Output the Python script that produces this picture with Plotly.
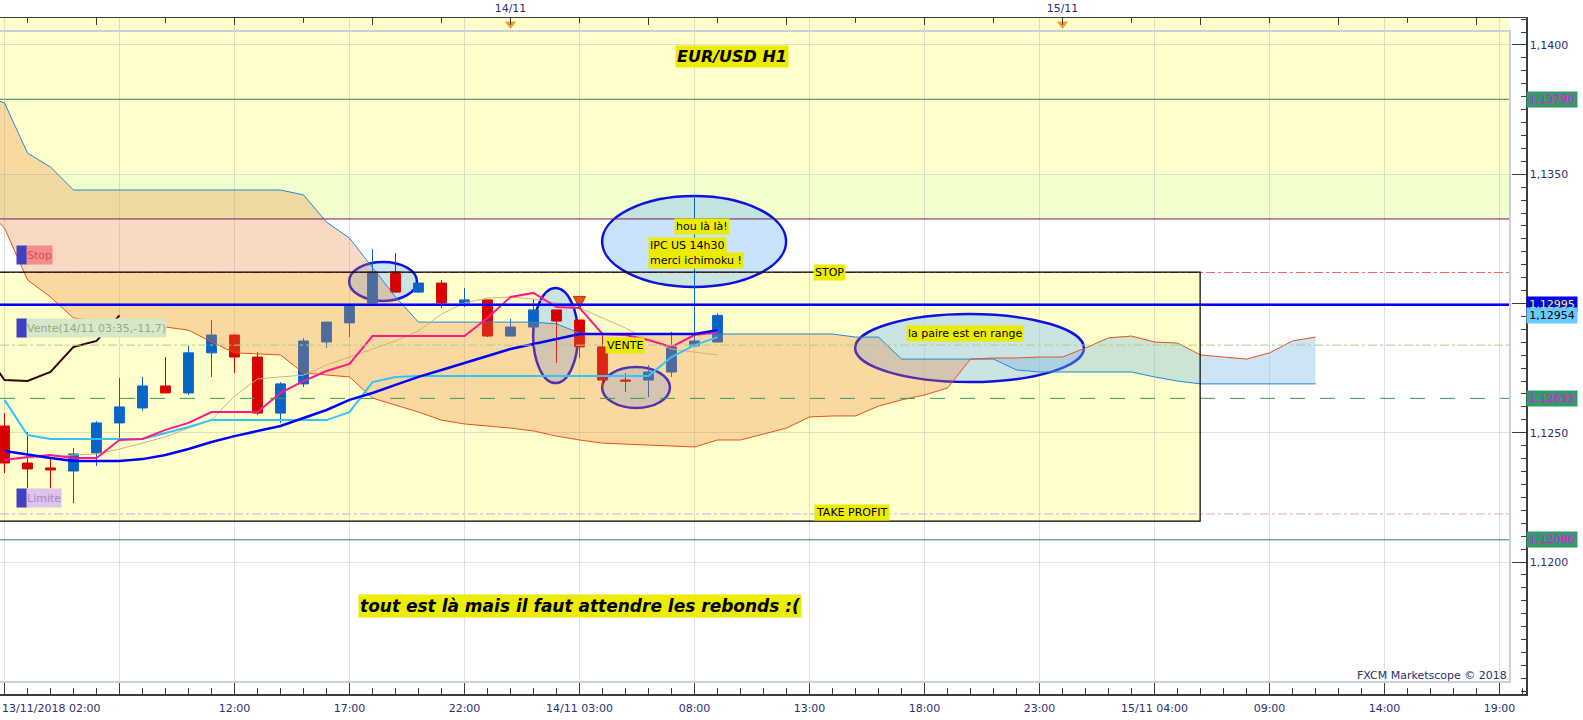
import pandas as pd
import plotly.graph_objects as go

# ---------------- data ----------------
# hourly timeline 13/11/2018 01:00 ... 15/11/2018 11:00 (cloud is shifted 26 h ahead)
hours = pd.date_range("2018-11-13 01:00", periods=59, freq="h")
candle_times = hours[1:33]          # 13/11 02:00 ... 14/11 09:00

opens = [1.12526, 1.12383, 1.12364, 1.12352, 1.12422, 1.12538, 1.12596, 1.12681, 1.12654, 1.12809,
         1.12878, 1.12793, 1.12576, 1.12689, 1.12851, 1.12925, 1.13002, 1.13122, 1.13044, 1.13079,
         1.13002, 1.13014, 1.12874, 1.12909, 1.12975, 1.12936, 1.12832, 1.12704, 1.12704, 1.12735,
         1.12836, 1.12851]
highs = [1.12576, 1.12503, 1.12406, 1.12441, 1.12545, 1.12712, 1.12716, 1.12793, 1.12836, 1.12936,
         1.12881, 1.12812, 1.12696, 1.12866, 1.12928, 1.12994, 1.13211, 1.13195, 1.13079, 1.13091,
         1.13060, 1.13014, 1.12940, 1.13017, 1.12975, 1.12936, 1.12878, 1.12731, 1.12762, 1.12890,
         1.13420, 1.12962]
lows = [1.12344, 1.12286, 1.12286, 1.12228, 1.12371, 1.12472, 1.12584, 1.12654, 1.12646, 1.12716,
        1.12731, 1.12569, 1.12538, 1.12677, 1.12828, 1.12870, 1.12990, 1.13041, 1.13041, 1.12983,
        1.12986, 1.12870, 1.12874, 1.12905, 1.12770, 1.12789, 1.12677, 1.12658, 1.12638, 1.12716,
        1.12832, 1.12851]
closes = [1.12383, 1.12360, 1.12356, 1.12418, 1.12538, 1.12600, 1.12681, 1.12654, 1.12809, 1.12878,
          1.12793, 1.12576, 1.12689, 1.12855, 1.12928, 1.12994, 1.13122, 1.13044, 1.13079, 1.13002,
          1.13014, 1.12874, 1.12909, 1.12975, 1.12932, 1.12832, 1.12704, 1.12700, 1.12735, 1.12832,
          1.12855, 1.12954]

tenkan = [1.12395, 1.12406, 1.12414, 1.12402, 1.12402, 1.12472, 1.12476, 1.12511, 1.12538, 1.12580,
          1.12580, 1.12580, 1.12654, 1.12700, 1.12739, 1.12766, 1.12874, 1.12874, 1.12874, 1.12874,
          1.12874, 1.12944, 1.13025, 1.13041, 1.12986, 1.12983, 1.12882, 1.12878, 1.12859, 1.12832,
          1.12878, 1.12890]
kijun = [1.12627, 1.12491, 1.12476, 1.12476, 1.12476, 1.12476, 1.12476, 1.12499, 1.12522, 1.12549,
         1.12549, 1.12549, 1.12549, 1.12549, 1.12549, 1.12580, 1.12696, 1.12716, 1.12720, 1.12720,
         1.12720, 1.12720, 1.12720, 1.12720, 1.12720, 1.12720, 1.12720, 1.12720, 1.12720, 1.12793,
         1.12839, 1.12870]
ma_blue = [1.12429, 1.12414, 1.12402, 1.12391, 1.12391, 1.12391, 1.12398, 1.12414, 1.12437, 1.12464,
           1.12487, 1.12507, 1.12526, 1.12557, 1.12588, 1.12627, 1.12654, 1.12685, 1.12716, 1.12743,
           1.12770, 1.12797, 1.12824, 1.12843, 1.12863, 1.12882, 1.12882, 1.12882, 1.12882, 1.12882,
           1.12882, 1.12897]
ma_tan = [1.12395, 1.12402, 1.12406, 1.12414, 1.12418, 1.12437, 1.12460, 1.12484, 1.12518, 1.12549,
          1.12642, 1.12708, 1.12716, 1.12723, 1.12762, 1.12793, 1.12824, 1.12855, 1.12894, 1.12959,
          1.13002, 1.13021, 1.13025, 1.13017, 1.13002, 1.12983, 1.12944, 1.12905, 1.12859, 1.12824,
          1.12812, 1.12801]

span_blue = [1.13807, 1.13776, 1.13582, 1.13528, 1.13439, 1.13439, 1.13439, 1.13439, 1.13439, 1.13439,
             1.13439, 1.13439, 1.13439, 1.13439, 1.13420, 1.13315, 1.13253, 1.13137, 1.13025, 1.12928,
             1.12928, 1.12928, 1.12928, 1.12928, 1.12928, 1.12921, 1.12886, 1.12882, 1.12882, 1.12882,
             1.12882, 1.12882, 1.12882, 1.12882, 1.12882, 1.12882, 1.12882, 1.12882, 1.12870, 1.12870,
             1.12785, 1.12785, 1.12785, 1.12785, 1.12785, 1.12743, 1.12735, 1.12735, 1.12735, 1.12735,
             1.12735, 1.12716, 1.12700, 1.12689, 1.12689, 1.12689, 1.12689, 1.12689, 1.12689]
span_orange = [1.13381, 1.13292, 1.13091, 1.13025, 1.12944, 1.12932, 1.12925, 1.12917, 1.12909, 1.12897,
               1.12851, 1.12809, 1.12805, 1.12801, 1.12731, 1.12723, 1.12716, 1.12634, 1.12607, 1.12580,
               1.12549, 1.12534, 1.12526, 1.12518, 1.12507, 1.12487, 1.12472, 1.12460, 1.12456, 1.12453,
               1.12449, 1.12445, 1.12472, 1.12472, 1.12495, 1.12518, 1.12561, 1.12565, 1.12565, 1.12603,
               1.12627, 1.12646, 1.12673, 1.12785, 1.12789, 1.12789, 1.12793, 1.12793, 1.12828, 1.12867,
               1.12874, 1.12851, 1.12847, 1.12801, 1.12793, 1.12785, 1.12809, 1.12855, 1.12870]
cross_idx = 43   # index in the cloud arrays where the two spans cross

# price levels drawn across the panel
level_prices = [1.13790, 1.13327, 1.13120, 1.12995, 1.12839, 1.12633, 1.12186, 1.12086]
band_prices = [1.13500, 1.13327]        # yellow band above 1.1350, lime band between
box_times = ["2018-11-13 00:00", "2018-11-15 05:59"]
box_prices = [1.12158, 1.13121]

# right-axis price tags
tag_prices = [1.13790, 1.12995, 1.12954, 1.12633, 1.12086]
tag_texts = ["1,13790", "1,12995", "1,12954", "1,12633", "1,12086"]

y_ticks = [1.1200, 1.1250, 1.1300, 1.1350, 1.1400]
y_ticktext = ["1,1200", "1,1250", "1,1300", "1,1350", "1,1400"]
x_ticks = pd.date_range("2018-11-13 02:00", "2018-11-15 19:00", freq="5h")
x_ticktext = ["", "", "12:00", "17:00", "22:00", "14/11 03:00", "08:00", "13:00", "18:00",
              "23:00", "15/11 04:00", "09:00", "14:00", "19:00"]
top_ticks = pd.date_range("2018-11-13 06:00", "2018-11-15 18:00", freq="6h")
day_marks = ["2018-11-14 00:00", "2018-11-15 00:00"]
day_texts = {"2018-11-14": "14/11", "2018-11-15": "15/11"}

# annotation ellipses (t0, t1, p0, p1)
ellipses = [
    ("2018-11-13 16:59", "2018-11-13 19:56", 1.13010, 1.13161),
    ("2018-11-14 00:59", "2018-11-14 02:56", 1.12692, 1.13060),
    ("2018-11-14 03:59", "2018-11-14 06:56", 1.12596, 1.12754),
    ("2018-11-14 03:59", "2018-11-14 11:59", 1.13064, 1.13416),
    ("2018-11-14 14:59", "2018-11-15 00:56", 1.12696, 1.12959),
]

# ---------------- figure ----------------
W, H = 1583, 720
ML, MR, MT, MB = 0, 57, 18, 26
PW = W - ML - MR
PH = H - MT - MB
PANEL_R = 1510 / PW
PANEL_B = (694 - 682) / PH
PANEL_T = (694 - 31) / PH
Y_RANGE = [1.114894, 1.141044]
X_RANGE = ["2018-11-13 01:48:15", "2018-11-15 20:09:07"]
FONT = "DejaVu Sans"
AXC = "#3c3c3c"
LABC = "#2e2e6e"
GRID = "rgba(170,170,170,0.35)"

fig = go.Figure()

fig.add_trace(go.Candlestick(
    x=candle_times, open=opens, high=highs, low=lows, close=closes,
    increasing=dict(line=dict(color="#0A64C8", width=1), fillcolor="#0A64C8"),
    decreasing=dict(line=dict(color="#D80000", width=1), fillcolor="#D80000"),
    whiskerwidth=0, showlegend=False, hoverinfo="skip"))

# Ichimoku cloud fills
fig.add_trace(go.Scatter(x=hours[:cross_idx + 1], y=span_orange[:cross_idx + 1], mode="lines",
                         line=dict(width=0), showlegend=False, hoverinfo="skip"))
fig.add_trace(go.Scatter(x=hours[:cross_idx + 1], y=span_blue[:cross_idx + 1], mode="lines",
                         line=dict(width=0), fill="tonexty", fillcolor="rgba(235,128,60,0.30)",
                         showlegend=False, hoverinfo="skip"))
fig.add_trace(go.Scatter(x=hours[cross_idx:], y=span_blue[cross_idx:], mode="lines",
                         line=dict(width=0), showlegend=False, hoverinfo="skip"))
fig.add_trace(go.Scatter(x=hours[cross_idx:], y=span_orange[cross_idx:], mode="lines",
                         line=dict(width=0), fill="tonexty", fillcolor="rgba(120,185,225,0.38)",
                         showlegend=False, hoverinfo="skip"))
fig.add_trace(go.Scatter(x=hours, y=span_blue, mode="lines", line=dict(color="#1E8BD2", width=1),
                         showlegend=False, hoverinfo="skip"))
fig.add_trace(go.Scatter(x=hours, y=span_orange, mode="lines", line=dict(color="#E8501E", width=1),
                         showlegend=False, hoverinfo="skip"))

# indicator lines
fig.add_trace(go.Scatter(x=candle_times, y=ma_tan, mode="lines", line=dict(color="#C8B48C", width=1),
                         showlegend=False, hoverinfo="skip"))
fig.add_trace(go.Scatter(x=candle_times, y=kijun, mode="lines", line=dict(color="#33C4FF", width=2),
                         showlegend=False, hoverinfo="skip"))
fig.add_trace(go.Scatter(x=candle_times, y=tenkan, mode="lines", line=dict(color="#FF1A8C", width=2),
                         showlegend=False, hoverinfo="skip"))
fig.add_trace(go.Scatter(x=candle_times, y=ma_blue, mode="lines", line=dict(color="#0000FF", width=2.5),
                         showlegend=False, hoverinfo="skip"))
# chikou span: closes shifted back 26 hours
fig.add_trace(go.Scatter(x=hours[0:7], y=closes[25:32], mode="lines", line=dict(color="#3A0000", width=2),
                         showlegend=False, hoverinfo="skip"))

# sell arrow
fig.add_trace(go.Scatter(x=["2018-11-14 03:00"], y=[1.12981], mode="markers",
                         marker=dict(symbol="arrow-down", size=12, color="#E85020",
                                     line=dict(color="#C03010", width=1)),
                         showlegend=False, hoverinfo="skip"))

# day markers on the top axis
fig.add_trace(go.Scatter(x=day_marks, y=[1.14081, 1.14081], xaxis="x2", mode="markers",
                         marker=dict(symbol="triangle-down", size=10, color="#F5A030"),
                         cliponaxis=False, showlegend=False, hoverinfo="skip"))

shapes = []
# background bands
shapes.append(dict(type="rect", xref="paper", yref="y", x0=0, x1=PANEL_R, y0=band_prices[0], y1=Y_RANGE[1],
                   fillcolor="#FFFFCC", line=dict(width=0), layer="below"))
shapes.append(dict(type="rect", xref="paper", yref="y", x0=0, x1=PANEL_R, y0=band_prices[1], y1=band_prices[0],
                   fillcolor="#F0FFCC", line=dict(width=0), layer="below"))
shapes.append(dict(type="rect", xref="x", yref="y", x0=box_times[0], x1=box_times[1],
                   y0=box_prices[0], y1=box_prices[1], fillcolor="#FFFFCC", line=dict(width=0), layer="below"))

for t0, t1, p0, p1 in ellipses:
    shapes.append(dict(type="circle", xref="x", yref="y", x0=t0, x1=t1, y0=p0, y1=p1,
                       fillcolor="rgba(150,200,250,0.5)", line=dict(color="#1010E0", width=2.5),
                       layer="between"))

level_colors = ["#2E8B57", "#7A1A5A", "#F06060", "#0000FF", "#A8D08C", "#3A9A60", "#D8A8E8", "#2E8B57"]
level_dash = ["solid", "solid", "dashdot", "solid", "dashdot", "longdash", "dashdot", "solid"]
level_width = [1, 1, 1, 2.5, 1, 1, 1, 1]
for p, c, d, w in zip(level_prices, level_colors, level_dash, level_width):
    shapes.append(dict(type="line", xref="paper", yref="y", x0=0, x1=PANEL_R, y0=p, y1=p,
                       line=dict(color=c, width=w, dash=d), layer="above"))

shapes.append(dict(type="rect", xref="x", yref="y", x0=box_times[0], x1=box_times[1],
                   y0=box_prices[0], y1=box_prices[1], fillcolor="rgba(0,0,0,0)",
                   line=dict(color="#000000", width=1.2), layer="above"))

# panel border
shapes.append(dict(type="rect", xref="paper", yref="paper", x0=-0.01, x1=PANEL_R, y0=PANEL_B, y1=PANEL_T,
                   fillcolor="rgba(0,0,0,0)", line=dict(color="#C8D0DC", width=2), layer="above"))

YEL = "#ECEC00"
ann = []


def label(text, x, y, size=11, xanchor="center", bold=False, xref="x", yref="y"):
    ann.append(dict(text=text, x=x, y=y, xref=xref, yref=yref, xanchor=xanchor, yanchor="middle",
                    showarrow=False, bgcolor=YEL, borderpad=1,
                    font=dict(family=FONT, size=size, color="#000000",
                              weight="bold" if bold else "normal",
                              style="italic" if bold else "normal")))


label("EUR/USD H1", "2018-11-14 09:38", 1.13957, size=16, bold=True)
label("tout est là mais il faut attendre les rebonds :(", "2018-11-14 03:01", 1.11830, size=17, bold=True)
label("hou là là!", "2018-11-14 08:20", 1.13298)
label("IPC US 14h30", "2018-11-14 05:59", 1.13224, xanchor="left")
label("merci ichimoku !", "2018-11-14 05:59", 1.13168, xanchor="left")
label("STOP", "2018-11-14 13:51", 1.13121)
label("TAKE PROFIT", "2018-11-14 14:51", 1.12190)
label("VENTE", "2018-11-14 04:59", 1.12838)
label("la paire est en range", "2018-11-14 19:46", 1.12884)

# order labels on the left
side_labels = [("Stop", 1.13188, "#F48C8C", "#D85050"),
               ("Vente(14/11 03:35,-11,7)", 1.12905, "#D6E8C8", "#94A884"),
               ("Limite", 1.12248, "#DCC4EC", "#A884C8")]
for txt, p, bg, fc in side_labels:
    ann.append(dict(text=" ", x=16 / PW, y=p, xref="paper", yref="y", xanchor="left", yanchor="middle",
                    showarrow=False, bgcolor="#4040C0", width=10, height=18, borderpad=0,
                    font=dict(size=11)))
    ann.append(dict(text=txt, x=26 / PW, y=p, xref="paper", yref="y", xanchor="left", yanchor="middle",
                    showarrow=False, bgcolor=bg, height=18, borderpad=0,
                    font=dict(family=FONT, size=11, color=fc)))

# price tags on the right axis
tag_bg = ["#339966", "#0000FF", "#66CCFF", "#339966", "#339966"]
tag_fc = ["#FF00FF", "#FFFF00", "#000000", "#FF00FF", "#FF00FF"]
for p, t, bg, fc in zip(tag_prices, tag_texts, tag_bg, tag_fc):
    ann.append(dict(text=t, x=1.0, y=p, xref="paper", yref="y", xanchor="left", yanchor="middle",
                    showarrow=False, bgcolor=bg, borderpad=1, width=48,
                    font=dict(family=FONT, size=11, color=fc)))

ann.append(dict(text="13/11/2018 02:00", x=0, y=-(708 - 694) / PH, xref="paper", yref="paper",
                xanchor="left", yanchor="middle", showarrow=False,
                font=dict(family=FONT, size=11, color=LABC)))
ann.append(dict(text="FXCM Marketscope © 2018", x=1509 / PW, y=(694 - 675) / PH, xref="paper",
                yref="paper", xanchor="right", yanchor="middle", showarrow=False,
                font=dict(family=FONT, size=11, color=LABC)))

top_text = [day_texts.get(str(t)[:10], "") if str(t)[11:13] == "00" else "" for t in top_ticks]

fig.update_layout(
    width=W, height=H, margin=dict(l=ML, r=MR, t=MT, b=MB),
    paper_bgcolor="#FFFFFF", plot_bgcolor="#FFFFFF", showlegend=False,
    font=dict(family=FONT, size=11, color=LABC),
    shapes=shapes, annotations=ann, boxgap=0.39, hovermode=False,
    xaxis=dict(type="date", range=X_RANGE, domain=[0, 1], anchor="y",
               showline=True, linecolor=AXC, linewidth=1.5, mirror=False,
               ticks="inside", ticklen=12, tickcolor=AXC, tickwidth=1,
               tickmode="array", tickvals=x_ticks, ticktext=x_ticktext,
               tickfont=dict(family=FONT, size=11, color=LABC), ticklabelstandoff=3,
               showgrid=True, gridcolor=GRID, gridwidth=1, zeroline=False,
               minor=dict(ticks="inside", ticklen=6, tickcolor=AXC, tickmode="linear",
                          tick0="2018-11-13 02:00", dtick=3600000, showgrid=False),
               rangeslider=dict(visible=False), fixedrange=True),
    xaxis2=dict(type="date", range=X_RANGE, overlaying="x", side="top", anchor="y",
                showline=True, linecolor=AXC, linewidth=1.5,
                ticks="inside", ticklen=7, tickcolor=AXC,
                tickmode="array", tickvals=top_ticks, ticktext=top_text,
                tickfont=dict(family=FONT, size=11, color=LABC),
                minor=dict(ticks="inside", ticklen=5, tickcolor=AXC, tickmode="linear",
                           tick0="2018-11-13 03:00", dtick=3 * 3600000),
                showgrid=False, zeroline=False, fixedrange=True),
    yaxis=dict(range=Y_RANGE, side="right", showline=True, linecolor=AXC, linewidth=1.5,
               ticks="inside", ticklen=14, tickcolor=AXC, tickmode="array",
               tickvals=y_ticks, ticktext=y_ticktext,
               tickfont=dict(family=FONT, size=11, color=LABC),
               showgrid=True, gridcolor=GRID, zeroline=False,
               minor=dict(ticks="inside", ticklen=5, tickcolor=AXC, tickmode="linear",
                          tick0=1.12, dtick=0.0005, showgrid=False),
               fixedrange=True),
)

fig.write_html("out.html", config={"displayModeBar": False, "staticPlot": True},
               post_script="document.body.style.margin='0px';")
